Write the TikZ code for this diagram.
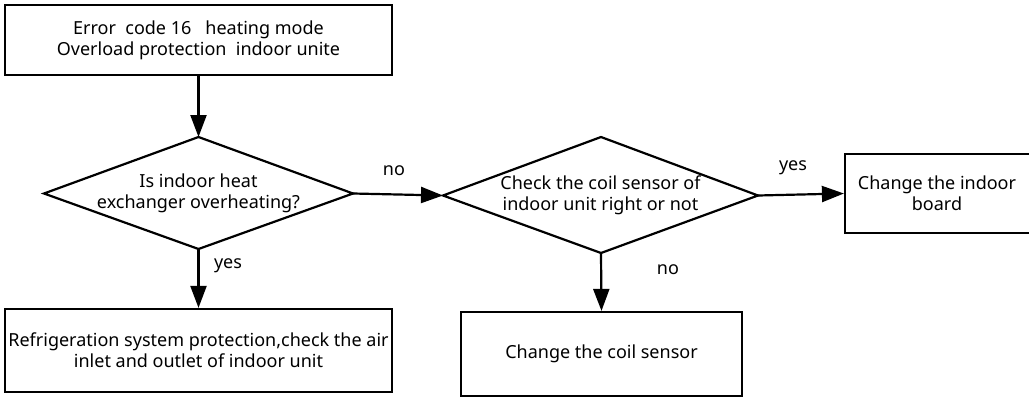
\documentclass[tikz,border=0pt]{standalone}
\usepackage{fontspec}
\setmainfont{Noto Sans}
\usetikzlibrary{arrows.meta}
\begin{document}
\begin{tikzpicture}[x=1pt,y=-1pt,
  txt/.style={align=center,inner sep=0pt,font=\fontsize{18}{21}\selectfont},
  box/.style={draw,line width=2.2pt,inner sep=0pt,align=center,font=\fontsize{18}{21}\selectfont},
  dline/.style={line width=2.2pt,line join=miter},
  lbl/.style={font=\fontsize{18}{20}\selectfont,inner sep=0pt},
  arr/.style={line width=2.2pt,-{Triangle[length=22pt,width=16pt]}}]
\useasboundingbox (0,0) rectangle (1029,397);
% diamond 1
\coordinate (d1n) at (198.5,137);
\coordinate (d1s) at (198.5,249);
\coordinate (d1w) at (44,193.5);
\coordinate (d1e) at (353,193.5);
\draw[dline] (d1n) -- (d1e) -- (d1s) -- (d1w) -- cycle;
\node[txt] (d1) at (198.5,193) {Is indoor heat\\exchanger overheating?};
% diamond 2
\coordinate (d2n) at (601,137);
\coordinate (d2s) at (601,253);
\coordinate (d2w) at (443,195.5);
\coordinate (d2e) at (758,195.5);
\draw[dline] (d2n) -- (d2e) -- (d2s) -- (d2w) -- cycle;
\node[txt] (d2) at (600.5,195) {Check the coil sensor of\\indoor unit right or not};
\node[box,minimum width=387pt,minimum height=70pt] (start) at (198.5,40) {Error\ \ code 16\ \ \ heating mode\\Overload protection\ \ indoor unite};
\node[box,minimum width=190pt,minimum height=79pt] (board) at (940,193.5) {};
\node[txt] (boardt) at (937,193) {Change the indoor\\board};
\node[box,minimum width=387pt,minimum height=83pt] (refr) at (198.5,350.5) {Refrigeration system protection,check the air\\inlet and outlet of indoor unit};
\node[box,minimum width=281pt,minimum height=84pt] (coil) at (601.5,354) {Change the coil sensor};
\draw[arr] (start.south) -- (d1n);
\draw[arr] (d1e) -- (d2w);
\draw[arr] (d2e) -- (board.west);
\draw[arr] (d1s) -- (refr.north);
\draw[arr] (d2s) -- (coil.north);
\node[lbl] (no1) at (394,171) {no};
\node[lbl] (yes1) at (793,168) {yes};
\node[lbl] (yes2) at (228,266) {yes};
\node[lbl] (no2) at (668,270) {no};
\end{tikzpicture}
\end{document}
